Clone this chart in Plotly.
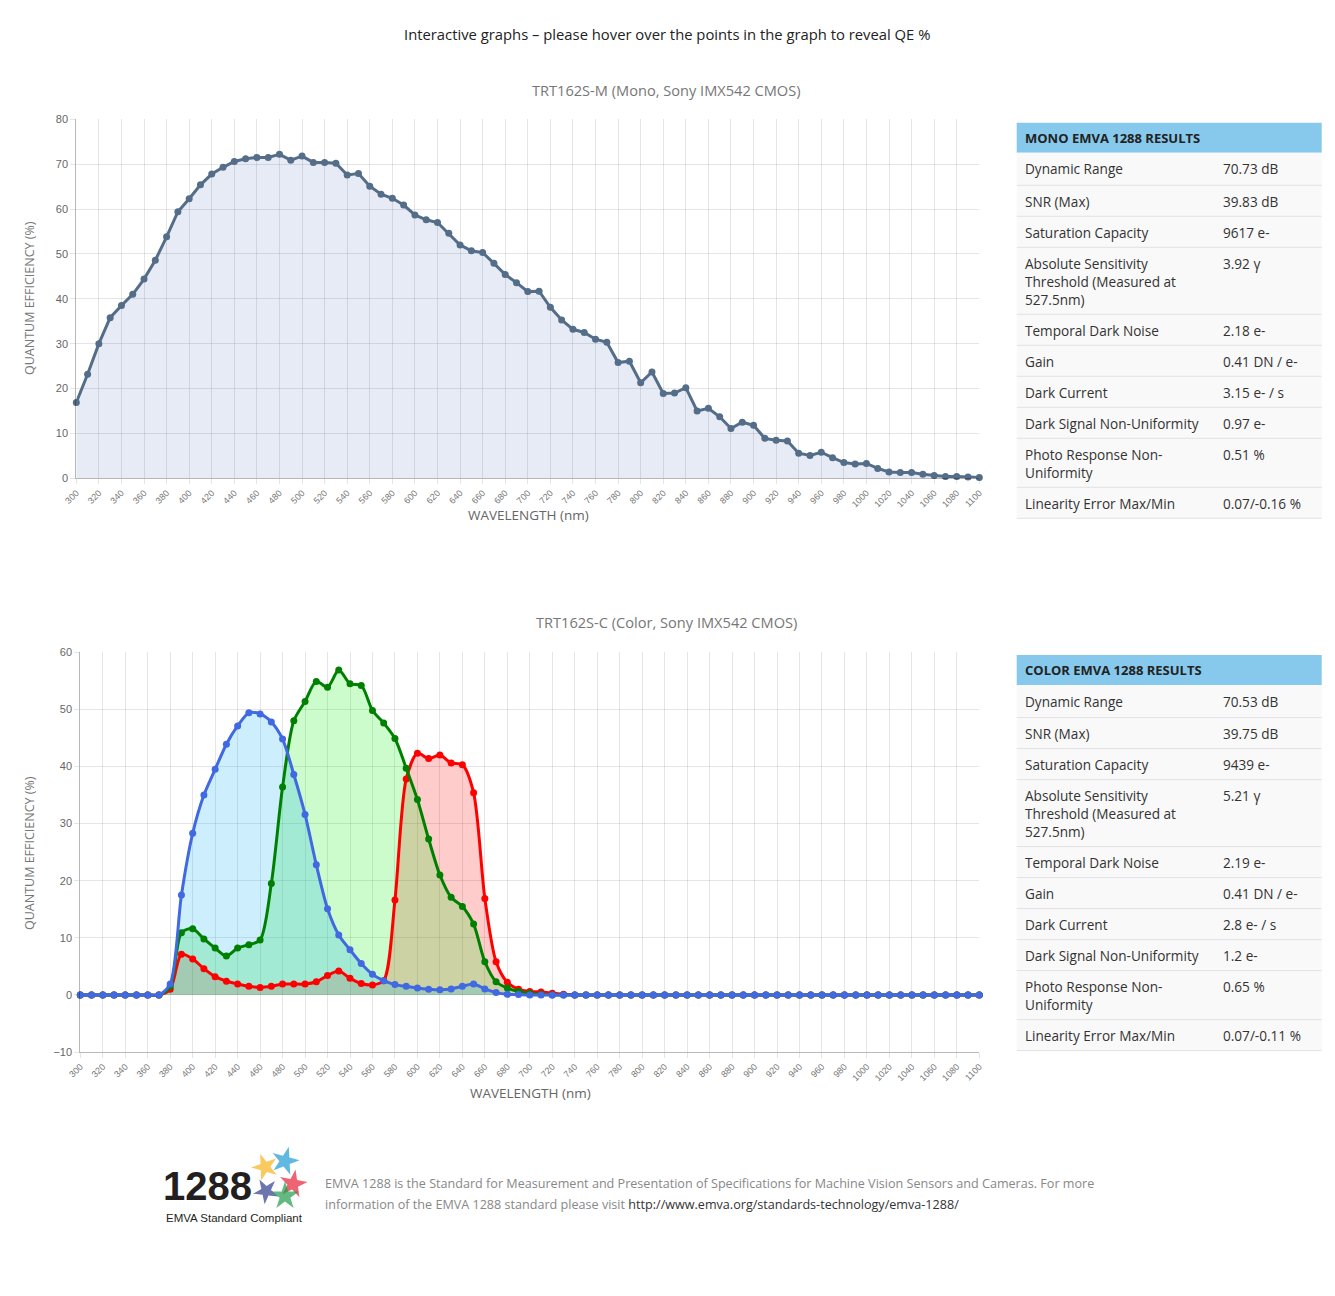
import plotly.graph_objects as go

# ---------------- data ----------------
wavelength = list(range(300, 1101, 10))
x_tick_vals = list(range(300, 1101, 20))

mono_qe = [16.9, 23.2, 30.0, 35.8, 38.5, 41.0, 44.4, 48.6, 53.8, 59.4,
           62.3, 65.4, 67.8, 69.3, 70.6, 71.2, 71.5, 71.5, 72.2, 70.9,
           71.8, 70.4, 70.4, 70.2, 67.6, 67.9, 65.1, 63.3, 62.4, 60.9,
           58.7, 57.6, 57.0, 54.6, 52.0, 50.7, 50.3, 47.9, 45.4, 43.6,
           41.6, 41.7, 38.1, 35.3, 33.2, 32.5, 31.0, 30.3, 25.8, 26.1,
           21.3, 23.7, 18.9, 19.0, 20.2, 15.0, 15.6, 13.7, 11.1, 12.5,
           11.8, 8.9, 8.5, 8.3, 5.6, 5.1, 5.8, 4.6, 3.5, 3.2,
           3.3, 2.2, 1.4, 1.3, 1.3, 0.9, 0.6, 0.4, 0.4, 0.3,
           0.2]

blue_qe = [0, 0, 0, 0, 0, 0, 0, 0,
           1.9, 17.5, 28.3, 35.0, 39.5, 43.9, 47.1, 49.4, 49.2, 47.8,
           44.8, 38.6, 31.6, 22.8, 15.1, 10.5, 7.9, 5.5, 3.6, 2.5,
           1.8, 1.5, 1.2, 1.0, 0.9, 1.05, 1.5, 1.9, 1.05, 0.4,
           0.1, 0.05,
           0, 0, 0, 0, 0, 0, 0, 0, 0, 0, 0, 0, 0, 0, 0, 0, 0, 0, 0, 0, 0,
           0, 0, 0, 0, 0, 0, 0, 0, 0, 0, 0, 0, 0, 0, 0, 0, 0, 0, 0, 0]

green_qe = [0, 0, 0, 0, 0, 0, 0, 0,
            1.5, 10.9, 11.6, 9.8, 8.2, 6.8, 8.2, 8.8, 9.6, 19.5,
            36.4, 48.0, 51.4, 54.9, 53.9, 56.9, 54.5, 54.2, 49.8, 47.6,
            44.9, 39.7, 34.2, 27.3, 21.0, 17.1, 15.5, 12.4, 5.8, 2.3,
            1.2, 0.6, 0.3, 0.1,
            0, 0, 0, 0, 0, 0, 0, 0, 0, 0, 0, 0, 0, 0, 0, 0, 0, 0, 0,
            0, 0, 0, 0, 0, 0, 0, 0, 0, 0, 0, 0, 0, 0, 0, 0, 0, 0, 0, 0]

red_qe = [0, 0, 0, 0, 0, 0, 0, 0,
          1.0, 7.1, 6.3, 4.6, 3.2, 2.4, 1.9, 1.5, 1.3, 1.5,
          1.9, 1.9, 1.9, 2.3, 3.4, 4.2, 2.9, 2.0, 1.75, 2.5,
          16.6, 37.8, 42.3, 41.4, 42.0, 40.6, 40.3, 35.4, 16.9, 5.8,
          2.2, 1.0, 0.6, 0.5, 0.3, 0.1,
          0, 0, 0, 0, 0, 0, 0, 0, 0, 0, 0, 0, 0, 0, 0, 0, 0, 0, 0,
          0, 0, 0, 0, 0, 0, 0, 0, 0, 0, 0, 0, 0, 0, 0, 0, 0, 0]

page_title = "Interactive graphs \u2013 please hover over the points in the graph to reveal QE %"
mono_title = "TRT162S-M (Mono, Sony IMX542 CMOS)"
color_title = "TRT162S-C (Color, Sony IMX542 CMOS)"
y_title = "QUANTUM EFFICIENCY (%)"
x_title = "WAVELENGTH (nm)"

table_labels = ["Dynamic Range", "SNR (Max)", "Saturation Capacity",
                "Absolute Sensitivity\nThreshold (Measured at\n527.5nm)",
                "Temporal Dark Noise", "Gain", "Dark Current",
                "Dark Signal Non-Uniformity", "Photo Response Non-\nUniformity",
                "Linearity Error Max/Min"]
mono_header = "MONO EMVA 1288 RESULTS"
mono_values = ["70.73 dB", "39.83 dB", "9617 e-", "3.92 \u03b3", "2.18 e-",
               "0.41 DN / e-", "3.15 e- / s", "0.97 e-", "0.51 %", "0.07/-0.16 %"]
color_header = "COLOR EMVA 1288 RESULTS"
color_values = ["70.53 dB", "39.75 dB", "9439 e-", "5.21 \u03b3", "2.19 e-",
                "0.41 DN / e-", "2.8 e- / s", "1.2 e-", "0.65 %", "0.07/-0.11 %"]

footer_line1 = ("EMVA 1288 is the Standard for Measurement and Presentation of Specifications "
                "for Machine Vision Sensors and Cameras. For more")
footer_line2 = "information of the EMVA 1288 standard please visit "
footer_link = "http://www.emva.org/standards-technology/emva-1288/"
logo_number = "1288"
logo_caption = "EMVA Standard Compliant"
logo_star_colors = ["#f6b31b", "#1e9bd7", "#e6243a", "#2d3b8e", "#1f9d4a"]

# ---------------- helpers ----------------
W, H = 1335, 1296


def px(x):
    return x / W


def py(y):
    return 1 - y / H


UI_FONT = "Open Sans"
TICK_FONT = "Liberation Sans"
GRID = "rgba(0,0,0,0.1)"
AXLINE = "rgba(0,0,0,0.28)"

fig = go.Figure()

# ---- mono chart ----
fig.add_trace(go.Scatter(
    x=wavelength, y=mono_qe, mode="lines+markers",
    line=dict(color="#546d88", width=3),
    marker=dict(color="#546d88", size=7),
    fill="tozeroy", fillcolor="rgba(60,90,170,0.12)",
    cliponaxis=False, xaxis="x", yaxis="y", showlegend=False,
    name="Mono", hovertemplate="%{x} nm: %{y}%<extra></extra>"))

# ---- color chart: fills first, then lines ----
series = [("Red", red_qe, "rgb(255,0,0)", "rgba(255,0,0,0.2)"),
          ("Green", green_qe, "rgb(0,128,0)", "rgba(0,235,0,0.2)"),
          ("Blue", blue_qe, "rgb(65,105,225)", "rgba(0,170,245,0.2)")]
for name, vals, lc, fc in series:
    fig.add_trace(go.Scatter(
        x=wavelength, y=vals, mode="lines",
        line=dict(width=0, shape="spline", smoothing=0.8, color=lc),
        fill="tozeroy", fillcolor=fc, hoverinfo="skip",
        xaxis="x2", yaxis="y2", showlegend=False))
for name, vals, lc, fc in series:
    fig.add_trace(go.Scatter(
        x=wavelength, y=vals, mode="lines+markers",
        line=dict(width=3, shape="spline", smoothing=0.8, color=lc),
        marker=dict(color=lc, size=7),
        cliponaxis=False, xaxis="x2", yaxis="y2", showlegend=False,
        name=name, hovertemplate="%{x} nm: %{y}%<extra>" + name + "</extra>"))

# ---- logo decoration (pixel-space overlay axis) ----
fig.add_trace(go.Scatter(
    x=[265, 285, 293, 266, 285], y=[1167, 1161, 1184, 1191, 1196],
    mode="markers", hoverinfo="skip", showlegend=False,
    marker=dict(symbol="star", size=[20, 21, 21, 19, 21],
                angle=[-20, 15, 10, -30, 0], color=logo_star_colors,
                line=dict(width=0)),
    cliponaxis=False, xaxis="x3", yaxis="y3"))

common_x = dict(range=[300, 1100], tickmode="array", tickvals=x_tick_vals,
                tickangle=-45, showgrid=True, gridcolor=GRID, gridwidth=1,
                showline=True, linecolor=AXLINE, linewidth=1,
                ticks="outside", ticklen=5, tickcolor=GRID,
                tickfont=dict(family=TICK_FONT, size=9, color="#777"),
                zeroline=False, fixedrange=True, automargin=False)
common_y = dict(showgrid=True, gridcolor=GRID, gridwidth=1,
                showline=True, linecolor=AXLINE, linewidth=1,
                ticks="outside", ticklen=5, tickcolor=GRID,
                tickfont=dict(family=TICK_FONT, size=11, color="#666"),
                zeroline=False, dtick=10, fixedrange=True, automargin=False)
hidden = dict(visible=False, showgrid=False, zeroline=False, fixedrange=True,
              automargin=False)

fig.update_layout(
    width=W, height=H, autosize=False,
    margin=dict(l=0, r=0, t=0, b=0, pad=0),
    paper_bgcolor="white", plot_bgcolor="rgba(0,0,0,0)",
    showlegend=False,
    xaxis=dict(domain=[px(76.3), px(979.3)], anchor="y", **common_x),
    yaxis=dict(domain=[py(478.3), py(119.3)], anchor="x", range=[0, 80], **common_y),
    xaxis2=dict(domain=[px(80.3), px(979.3)], anchor="y2", **common_x),
    yaxis2=dict(domain=[py(1052), py(652.3)], anchor="x2", range=[-10, 60], **common_y),
    xaxis3=dict(domain=[0, 1], anchor="y3", range=[0, W], **hidden),
    yaxis3=dict(domain=[0, 1], anchor="x3", range=[H, 0], **hidden),
)

ann = []
shapes = []


def text(x, y, s, size=13, color="#333", family=UI_FONT, xanchor="center",
         yanchor="middle", angle=0, align="center"):
    ann.append(dict(x=px(x), y=py(y), xref="paper", yref="paper", text=s,
                    showarrow=False, xanchor=xanchor, yanchor=yanchor, align=align,
                    textangle=angle, font=dict(family=family, size=size, color=color)))


# titles
text(666.5, 34, page_title, size=14.8, color="#222")
text(666.5, 90, mono_title, size=14.6, color="#777")
text(666.5, 622, color_title, size=14.6, color="#777")
text(29, 298, y_title, size=12.5, color="#777", angle=-90)
text(29, 853, y_title, size=12.5, color="#777", angle=-90)
text(528, 515, x_title, size=13.5, color="#666")
text(530, 1093, x_title, size=13.5, color="#666")


# tables
def draw_table(top, header, labels, values):
    x0, x1 = 1016.7, 1321.7
    shapes.append(dict(type="rect", xref="paper", yref="paper",
                       x0=px(x0), x1=px(x1), y0=py(top), y1=py(top + 30),
                       fillcolor="#87c9ec", line=dict(width=0), layer="below"))
    text(1023, top + 15, "<b>" + header + "</b>", size=13, color="#222", xanchor="left")
    y = top + 30
    for i, (lab, val) in enumerate(zip(labels, values)):
        lines = lab.split("\n")
        h = 31 + 18 * (len(lines) - 1) + (1.6 if i == 0 else 0)
        shapes.append(dict(type="rect", xref="paper", yref="paper",
                           x0=px(x0), x1=px(x1), y0=py(y), y1=py(y + h),
                           fillcolor="#f9f9f9", line=dict(width=0), layer="below"))
        shapes.append(dict(type="line", xref="paper", yref="paper",
                           x0=px(x0), x1=px(x1), y0=py(y + h), y1=py(y + h),
                           line=dict(color="#e2e2e2", width=1)))
        for j, ln in enumerate(lines):
            text(1023, y + 16 + 18 * j, ln, size=13.6, color="#333", xanchor="left")
        text(1221, y + 16, val, size=13.6, color="#333", xanchor="left")
        y += h


draw_table(122.7, mono_header, table_labels, mono_values)
draw_table(655.0, color_header, table_labels, color_values)

# footer
text(323, 1183, footer_line1, size=12.6, color="#888", xanchor="left")
text(323, 1204, footer_line2 + '<span style="color:#333">' + footer_link + "</span>",
     size=12.6, color="#888", xanchor="left")

# logo: number and caption as separate, non-overlapping text boxes
text(161, 1210, "<b>" + logo_number + "</b>", size=40, color="#231f20",
     family="Liberation Sans", xanchor="left", yanchor="bottom")
text(164, 1210, logo_caption, size=11.5, color="#231f20", family="Liberation Sans",
     xanchor="left", yanchor="top")

fig.update_layout(annotations=ann, shapes=shapes)

fig.write_html("out.html", include_plotlyjs=True,
               post_script="document.body.style.margin='0';",
               config={"displayModeBar": False})
